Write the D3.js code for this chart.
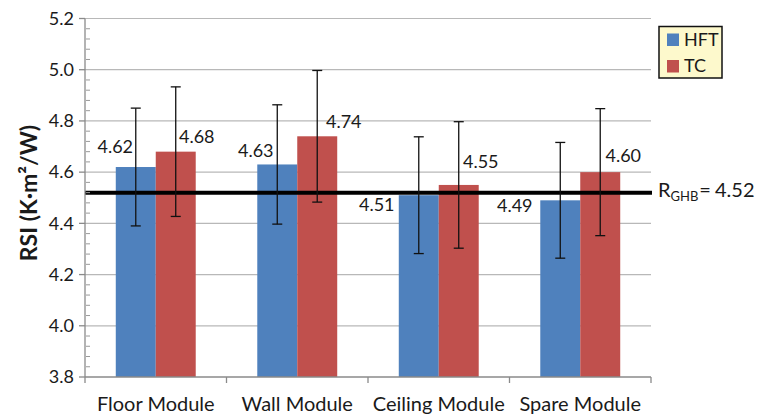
<!DOCTYPE html>
<html>
<head>
<meta charset="utf-8">
<script src="https://cdn.jsdelivr.net/npm/d3@7"></script>
<style>
  body { margin: 0; background: #fff; }
  svg { display: block; font-family: Lato, "Open Sans", sans-serif; }
</style>
</head>
<body>
<svg id="chart" width="759" height="415"></svg>
<script>
// ---- data ----
const categories = ["Floor Module", "Wall Module", "Ceiling Module", "Spare Module"];
const seriesNames = ["HFT", "TC"];
const hftValues = [4.62, 4.63, 4.51, 4.49];
const tcValues  = [4.68, 4.74, 4.55, 4.60];
const hftErrors = [0.230, 0.233, 0.228, 0.226];
const tcErrors  = [0.253, 0.257, 0.247, 0.248];
const yTicks = [3.8, 4.0, 4.2, 4.4, 4.6, 4.8, 5.0, 5.2];
const referenceValue = 4.52;
const referenceSub = "GHB";
const yTitle = "RSI (K\u00b7m\u00b2/W)";

// ---- layout / style ----
const colors = { HFT: "#4f81bd", TC: "#c0504d" };
const plot = { left: 85, right: 651, top: 18.5, bottom: 377 };
// hand-placed value labels: [dx, dy] from bar centre / bar top
const labelNudges = {
  HFT: [[-20.5, -14], [-21.5, -7.6], [-42, 15.7], [-45.5, 11.5]],
  TC:  [[21, -8.5], [26.5, -8.5], [22, -16.5], [23, -10.3]]
};

const svg = d3.select("#chart");

const x = d3.scaleBand().domain(categories).range([plot.left, plot.right]).padding(0);
const xs = d3.scaleBand().domain(seriesNames)
  .range([0, x.bandwidth()]).paddingOuter(0.77).paddingInner(0);
const y = d3.scaleLinear().domain([3.8, 5.2]).range([plot.bottom, plot.top]);

const series = [
  { name: "HFT", values: hftValues, errors: hftErrors },
  { name: "TC",  values: tcValues,  errors: tcErrors }
];

// gridlines
svg.append("g").selectAll("line").data(yTicks.slice(1)).join("line")
  .attr("x1", plot.left).attr("x2", plot.right)
  .attr("y1", d => y(d)).attr("y2", d => y(d))
  .attr("stroke", "#b8b8b8").attr("stroke-width", 1.2);

// bars
series.forEach(s => {
  svg.append("g").selectAll("rect").data(s.values).join("rect")
    .attr("x", (d, i) => x(categories[i]) + xs(s.name))
    .attr("width", xs.bandwidth())
    .attr("y", d => y(d))
    .attr("height", d => y(3.8) - y(d))
    .attr("fill", colors[s.name]);
});

// reference line with soft shadow
const defs = svg.append("defs");
defs.append("filter").attr("id", "soft").attr("x", "-5%").attr("y", "-300%")
  .attr("width", "110%").attr("height", "700%")
  .append("feGaussianBlur").attr("stdDeviation", 1.6);
svg.append("line")
  .attr("x1", plot.left).attr("x2", plot.right + 1)
  .attr("y1", y(referenceValue) + 1.5).attr("y2", y(referenceValue) + 1.5)
  .attr("stroke", "#9a9a9a").attr("stroke-width", 8).attr("opacity", 0.55)
  .attr("filter", "url(#soft)");
svg.append("line")
  .attr("x1", plot.left).attr("x2", plot.right + 1)
  .attr("y1", y(referenceValue)).attr("y2", y(referenceValue))
  .attr("stroke", "#000").attr("stroke-width", 4);

// error bars
series.forEach(s => {
  const g = svg.append("g").attr("stroke", "#111").attr("stroke-width", 1.3);
  s.values.forEach((v, i) => {
    const cx = x(categories[i]) + xs(s.name) + xs.bandwidth() / 2;
    const hi = y(v + s.errors[i]), lo = y(v - s.errors[i]);
    g.append("line").attr("x1", cx).attr("x2", cx).attr("y1", hi).attr("y2", lo);
    g.append("line").attr("x1", cx - 5).attr("x2", cx + 5).attr("y1", hi).attr("y2", hi);
    g.append("line").attr("x1", cx - 5).attr("x2", cx + 5).attr("y1", lo).attr("y2", lo);
  });
});

// value labels
series.forEach(s => {
  svg.append("g").selectAll("text").data(s.values).join("text")
    .attr("x", (d, i) => x(categories[i]) + xs(s.name) + xs.bandwidth() / 2 + labelNudges[s.name][i][0])
    .attr("y", (d, i) => y(d) + labelNudges[s.name][i][1])
    .attr("text-anchor", "middle")
    .attr("font-size", 18).attr("fill", "#1a1a1a")
    .text(d => d.toFixed(2));
});

// y axis
const yAxisG = svg.append("g").attr("transform", `translate(${plot.left},0)`);
yAxisG.append("line").attr("y1", plot.top).attr("y2", plot.bottom)
  .attr("stroke", "#8a8a8a").attr("stroke-width", 1.3);
const minorTicks = d3.range(3.84, 5.2, 0.04).filter(v => Math.abs(v * 5 - Math.round(v * 5)) > 1e-6);
yAxisG.selectAll(".minor").data(minorTicks).join("line").attr("class", "minor")
  .attr("x1", 1).attr("x2", 5).attr("y1", d => y(d)).attr("y2", d => y(d))
  .attr("stroke", "#9a9a9a").attr("stroke-width", 1);
yAxisG.selectAll(".major").data(yTicks).join("line").attr("class", "major")
  .attr("x1", -6).attr("x2", 0).attr("y1", d => y(d)).attr("y2", d => y(d))
  .attr("stroke", "#8a8a8a").attr("stroke-width", 1.3);
yAxisG.selectAll("text").data(yTicks).join("text")
  .attr("x", -11).attr("y", d => y(d)).attr("dy", "0.35em")
  .attr("text-anchor", "end").attr("font-size", 18).attr("fill", "#1a1a1a")
  .text(d => d.toFixed(1));

// y title
svg.append("text")
  .attr("transform", `translate(37,193) rotate(-90)`)
  .attr("text-anchor", "middle").attr("font-size", 23).attr("font-weight", "bold")
  .attr("fill", "#1a1a1a")
  .text(yTitle);

// x axis
const xAxisG = svg.append("g");
xAxisG.append("line").attr("x1", plot.left).attr("x2", plot.right)
  .attr("y1", plot.bottom).attr("y2", plot.bottom)
  .attr("stroke", "#8a8a8a").attr("stroke-width", 1.3);
const boundaries = categories.map(c => x(c)).concat([plot.right]);
xAxisG.selectAll(".tick").data(boundaries).join("line").attr("class", "tick")
  .attr("x1", d => d).attr("x2", d => d).attr("y1", plot.bottom).attr("y2", plot.bottom + 6)
  .attr("stroke", "#8a8a8a").attr("stroke-width", 1.3);
xAxisG.selectAll("text").data(categories).join("text")
  .attr("x", d => x(d) + x.bandwidth() / 2).attr("y", 411)
  .attr("text-anchor", "middle").attr("font-size", 20).attr("fill", "#1a1a1a")
  .text(d => d);

// reference label
const refText = svg.append("text")
  .attr("x", 658).attr("y", y(referenceValue) + 4)
  .attr("font-size", 20).attr("fill", "#1a1a1a");
refText.append("tspan").text("R");
refText.append("tspan").attr("font-size", 13).attr("dy", 4).text(referenceSub);
refText.append("tspan").attr("dy", -4).attr("dx", 1).text("=");
refText.append("tspan").attr("dx", 4).text(referenceValue.toFixed(2));

// legend
const lg = svg.append("g");
lg.append("rect").attr("x", 659).attr("y", 26.5).attr("width", 63).attr("height", 51.5)
  .attr("fill", "#fdf9cc").attr("stroke", "#111").attr("stroke-width", 1.5);
seriesNames.forEach((n, i) => {
  lg.append("rect").attr("x", 667).attr("y", 33.5 + i * 26.5).attr("width", 12).attr("height", 12.5)
    .attr("fill", colors[n]);
  lg.append("text").attr("x", 684).attr("y", 46 + i * 26.3)
    .attr("font-size", 18).attr("fill", "#1a1a1a").text(n);
});
</script>
</body>
</html>
